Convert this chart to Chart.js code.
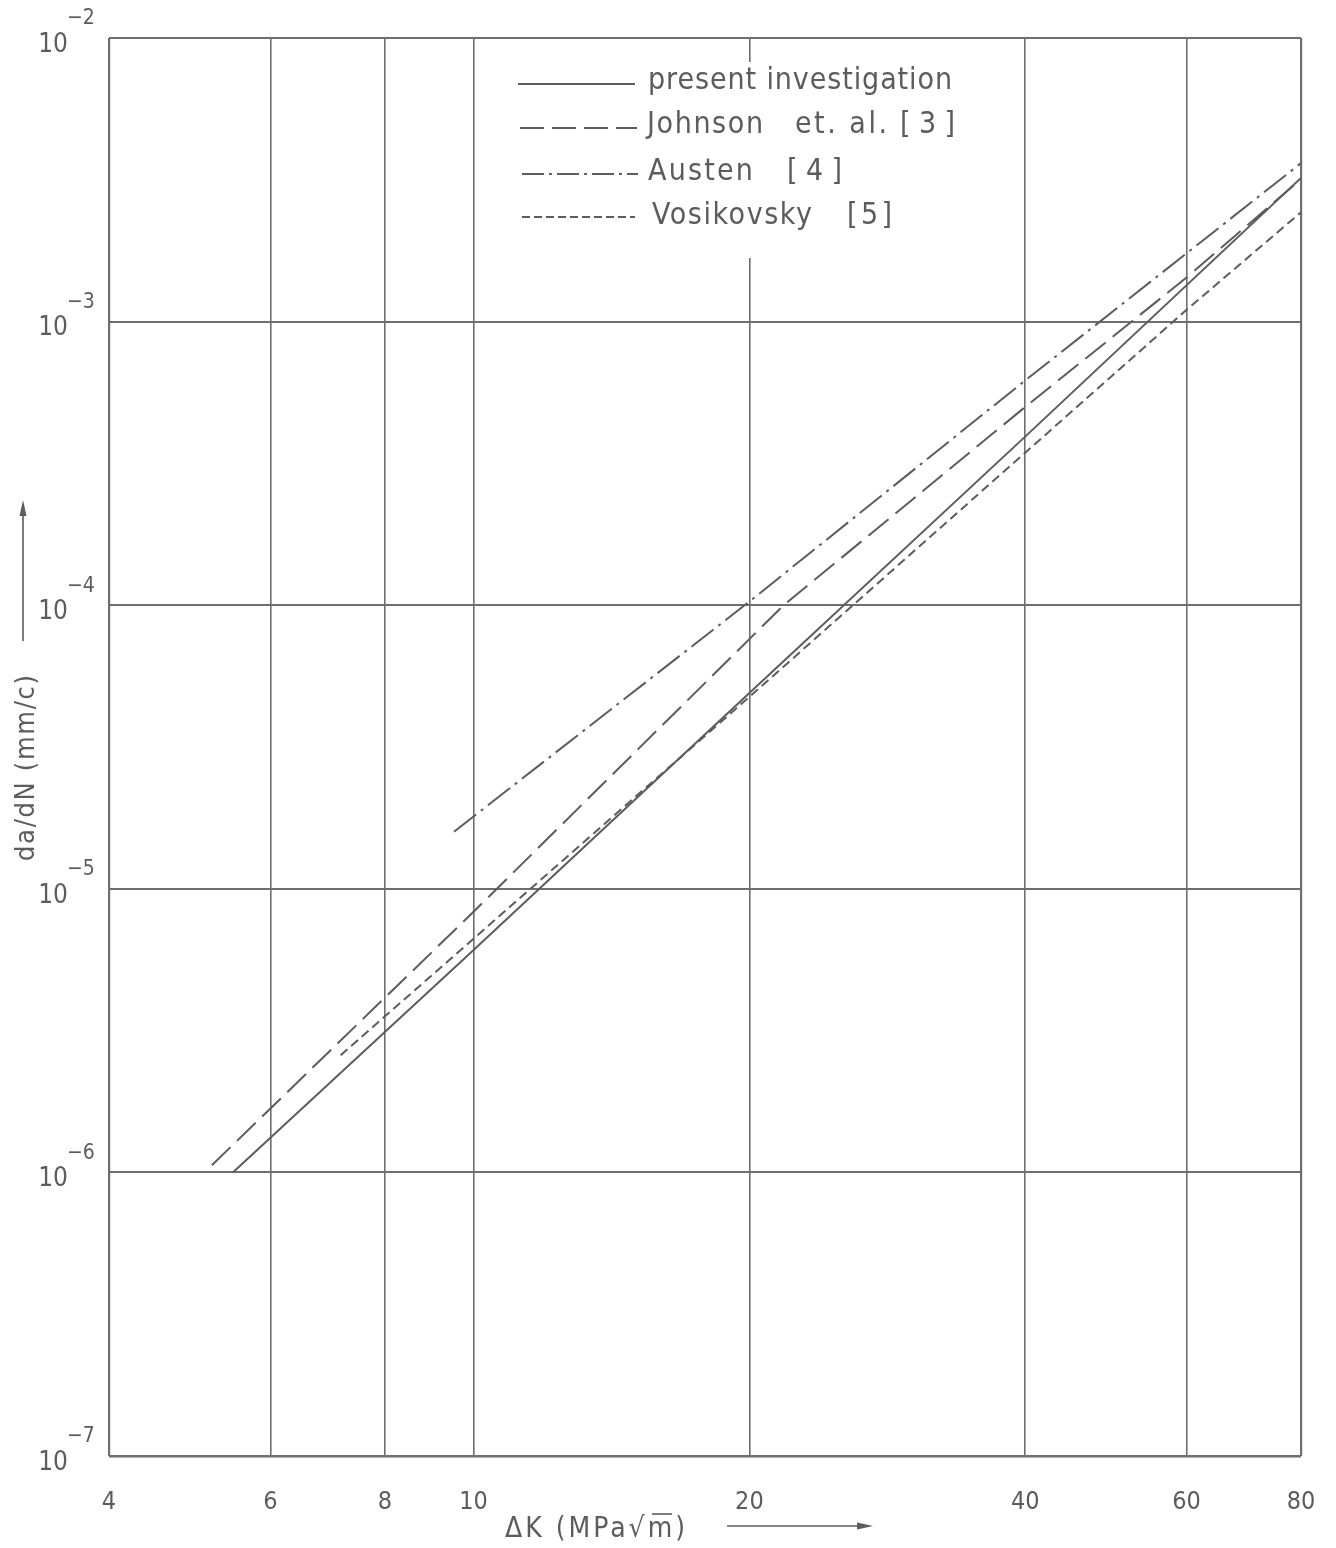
<!DOCTYPE html>
<html>
<head>
<meta charset="utf-8">
<script src="https://cdn.jsdelivr.net/npm/chart.js@4.4.1/dist/chart.umd.min.js"></script>
<style>
  html, body { margin: 0; padding: 0; background: #ffffff; }
  #c { display: block; }
</style>
</head>
<body>
<canvas id="c" width="1336" height="1548"></canvas>
<script>
// ---- data ----
const xTicks = [4, 6, 8, 10, 20, 40, 60, 80];
const yTicks = [1e-7, 1e-6, 1e-5, 1e-4, 1e-3, 1e-2];
const yTickBase = '10';
const yTickExponents = ['\u22127', '\u22126', '\u22125', '\u22124', '\u22123', '\u22122'];

const seriesNames = ['present investigation', 'Johnson   et. al.  [3]', 'Austen   [4]', 'Vosikovsky  [5]'];

const presentK    = [5.46, 10, 20, 40, 80];
const presentRate = [1.0e-6, 6.08e-6, 4.9e-5, 3.93e-4, 3.21e-3];

const johnsonK    = [5.18, 10, 21.8, 40, 60, 80];
const johnsonRate = [1.06e-6, 8.3e-6, 1.0e-4, 5.0e-4, 1.43e-3, 3.18e-3];

const austenK     = [9.52, 20, 40, 80];
const austenRate  = [1.59e-5, 1.03e-4, 6.2e-4, 3.62e-3];

const vosikK      = [7.16, 10, 20, 40, 60, 80];
const vosikRate   = [2.59e-6, 6.67e-6, 4.75e-5, 3.45e-4, 1.1e-3, 2.43e-3];

const xTitle = '\u0394K (MPa\u221Am)';
const yTitle = 'da/dN (mm/c)';

// ---- styling ----
const INK = '#5c5c5c';
const GRID = '#6e6e6e';
const FONT = "'Liberation Sans Narrow', 'DejaVu Sans Condensed', 'DejaVu Sans', sans-serif";
const dashes = [[], [26, 9], [28, 6, 3, 6], [9, 5]];

function pts(xs, ys) { return xs.map((x, i) => ({ x: x, y: ys[i] })); }

const datasets = [
  { label: seriesNames[0], data: pts(presentK, presentRate), borderDash: dashes[0] },
  { label: seriesNames[1], data: pts(johnsonK, johnsonRate), borderDash: dashes[1] },
  { label: seriesNames[2], data: pts(austenK, austenRate), borderDash: dashes[2] },
  { label: seriesNames[3], data: pts(vosikK, vosikRate), borderDash: dashes[3] }
].map(d => Object.assign(d, {
  borderColor: INK, borderWidth: 2, pointRadius: 0, tension: 0, fill: false
}));

function fitText(ctx, text, x, y, width) {
  ctx.letterSpacing = '0px';
  const w = ctx.measureText(text).width;
  const n = Math.max(1, text.length - 1);
  const ls = (width - w) / n;
  ctx.letterSpacing = ls.toFixed(2) + 'px';
  ctx.fillText(text, x, y);
  ctx.letterSpacing = '0px';
}

const decorPlugin = {
  id: 'decor',
  afterDraw(chart) {
    const ctx = chart.ctx;
    const ys = chart.scales.y;
    ctx.save();
    // exponents of y tick labels
    ctx.fillStyle = INK;
    ctx.font = '21px ' + FONT;
    ctx.textAlign = 'left';
    ctx.textBaseline = 'middle';
    yTicks.forEach((v, i) => {
      const py = ys.getPixelForValue(v);
      ctx.fillText(yTickExponents[i], 67, py - 19);
    });

    // legend box
    ctx.fillStyle = '#ffffff';
    ctx.fillRect(500, 62, 480, 196);
    const rows = [
      { y: 84, ty: 81, x0: 518, x1: 635, parts: [[seriesNames[0], 648, 304]] },
      { y: 128, ty: 125, x0: 520, x1: 637, parts: [['Johnson', 647, 116], ['et. al.', 795, 92], ['[3]', 900, 55]] },
      { y: 174, ty: 172, x0: 522, x1: 638, parts: [['Austen', 648, 105], ['[4]', 787, 55]] },
      { y: 217, ty: 216, x0: 522, x1: 635, parts: [['Vosikovsky', 652, 160], ['[5]', 847, 45]] }
    ];
    rows.forEach((r, i) => {
      ctx.strokeStyle = INK;
      ctx.lineWidth = 2;
      ctx.setLineDash(i === 3 ? [8, 4] : (i === 2 ? [22, 5, 3, 5] : (i === 1 ? [24, 8] : [])));
      ctx.beginPath();
      ctx.moveTo(r.x0, r.y);
      ctx.lineTo(r.x1, r.y);
      ctx.stroke();
      ctx.setLineDash([]);
      ctx.fillStyle = INK;
      ctx.font = '30px ' + FONT;
      ctx.textAlign = 'left';
      ctx.textBaseline = 'middle';
      r.parts.forEach(p => fitText(ctx, p[0], p[1], r.ty, p[2]));
    });

    // y axis title + arrow
    ctx.save();
    ctx.translate(27, 768);
    ctx.rotate(-Math.PI / 2);
    ctx.fillStyle = INK;
    ctx.font = '27px ' + FONT;
    ctx.textAlign = 'left';
    ctx.textBaseline = 'middle';
    fitText(ctx, yTitle, -93, 0, 186);
    ctx.restore();
    ctx.strokeStyle = INK;
    ctx.lineWidth = 1.6;
    ctx.beginPath();
    ctx.moveTo(23, 641);
    ctx.lineTo(23, 510);
    ctx.stroke();
    ctx.fillStyle = INK;
    ctx.beginPath();
    ctx.moveTo(23, 500);
    ctx.lineTo(19.5, 516);
    ctx.lineTo(26.5, 516);
    ctx.closePath();
    ctx.fill();

    // x axis title + arrow
    ctx.fillStyle = INK;
    ctx.font = '28px ' + FONT;
    ctx.textAlign = 'left';
    ctx.textBaseline = 'middle';
    fitText(ctx, xTitle, 505, 1530, 180);
    // overbar of the square root
    ctx.lineWidth = 1.6;
    ctx.beginPath();
    ctx.moveTo(652, 1514);
    ctx.lineTo(672, 1514);
    ctx.stroke();
    ctx.beginPath();
    ctx.moveTo(727, 1526);
    ctx.lineTo(860, 1526);
    ctx.stroke();
    ctx.beginPath();
    ctx.moveTo(873, 1526);
    ctx.lineTo(857, 1522.5);
    ctx.lineTo(857, 1529.5);
    ctx.closePath();
    ctx.fill();
    ctx.restore();
  }
};

new Chart(document.getElementById('c'), {
  type: 'line',
  data: { datasets: datasets },
  options: {
    responsive: false,
    animation: false,
    devicePixelRatio: 1,
    layout: { padding: { left: 0, top: 38, right: 35, bottom: 0 } },
    plugins: { legend: { display: false }, tooltip: { enabled: false } },
    scales: {
      x: {
        type: 'logarithmic',
        min: 4, max: 80,
        afterBuildTicks: s => { s.ticks = xTicks.map(v => ({ value: v })); },
        afterFit: s => { s.height = 92; s.paddingLeft = 0; s.paddingRight = 0; },
        ticks: {
          autoSkip: false,
          maxRotation: 0,
          padding: 31,
          color: INK,
          font: { family: FONT, size: 25 },
          callback: v => String(v)
        },
        grid: {
          drawTicks: false,
          color: GRID,
          lineWidth: c => (c.tick && (c.tick.value === 4 || c.tick.value === 80)) ? 2.2 : 1.6
        },
        border: { display: false }
      },
      y: {
        type: 'logarithmic',
        min: 1e-7, max: 1e-2,
        afterBuildTicks: s => { s.ticks = yTicks.map(v => ({ value: v })); },
        afterFit: s => { s.width = 109; s.paddingTop = 0; s.paddingBottom = 0; },
        ticks: {
          autoSkip: false,
          padding: 41,
          labelOffset: 7,
          color: INK,
          font: { family: FONT, size: 26 },
          callback: () => yTickBase
        },
        grid: {
          drawTicks: false,
          color: GRID,
          lineWidth: c => (c.tick && (c.tick.value === 1e-7)) ? 2.4 : 2
        },
        border: { display: false }
      }
    }
  },
  plugins: [decorPlugin]
});
</script>
</body>
</html>
